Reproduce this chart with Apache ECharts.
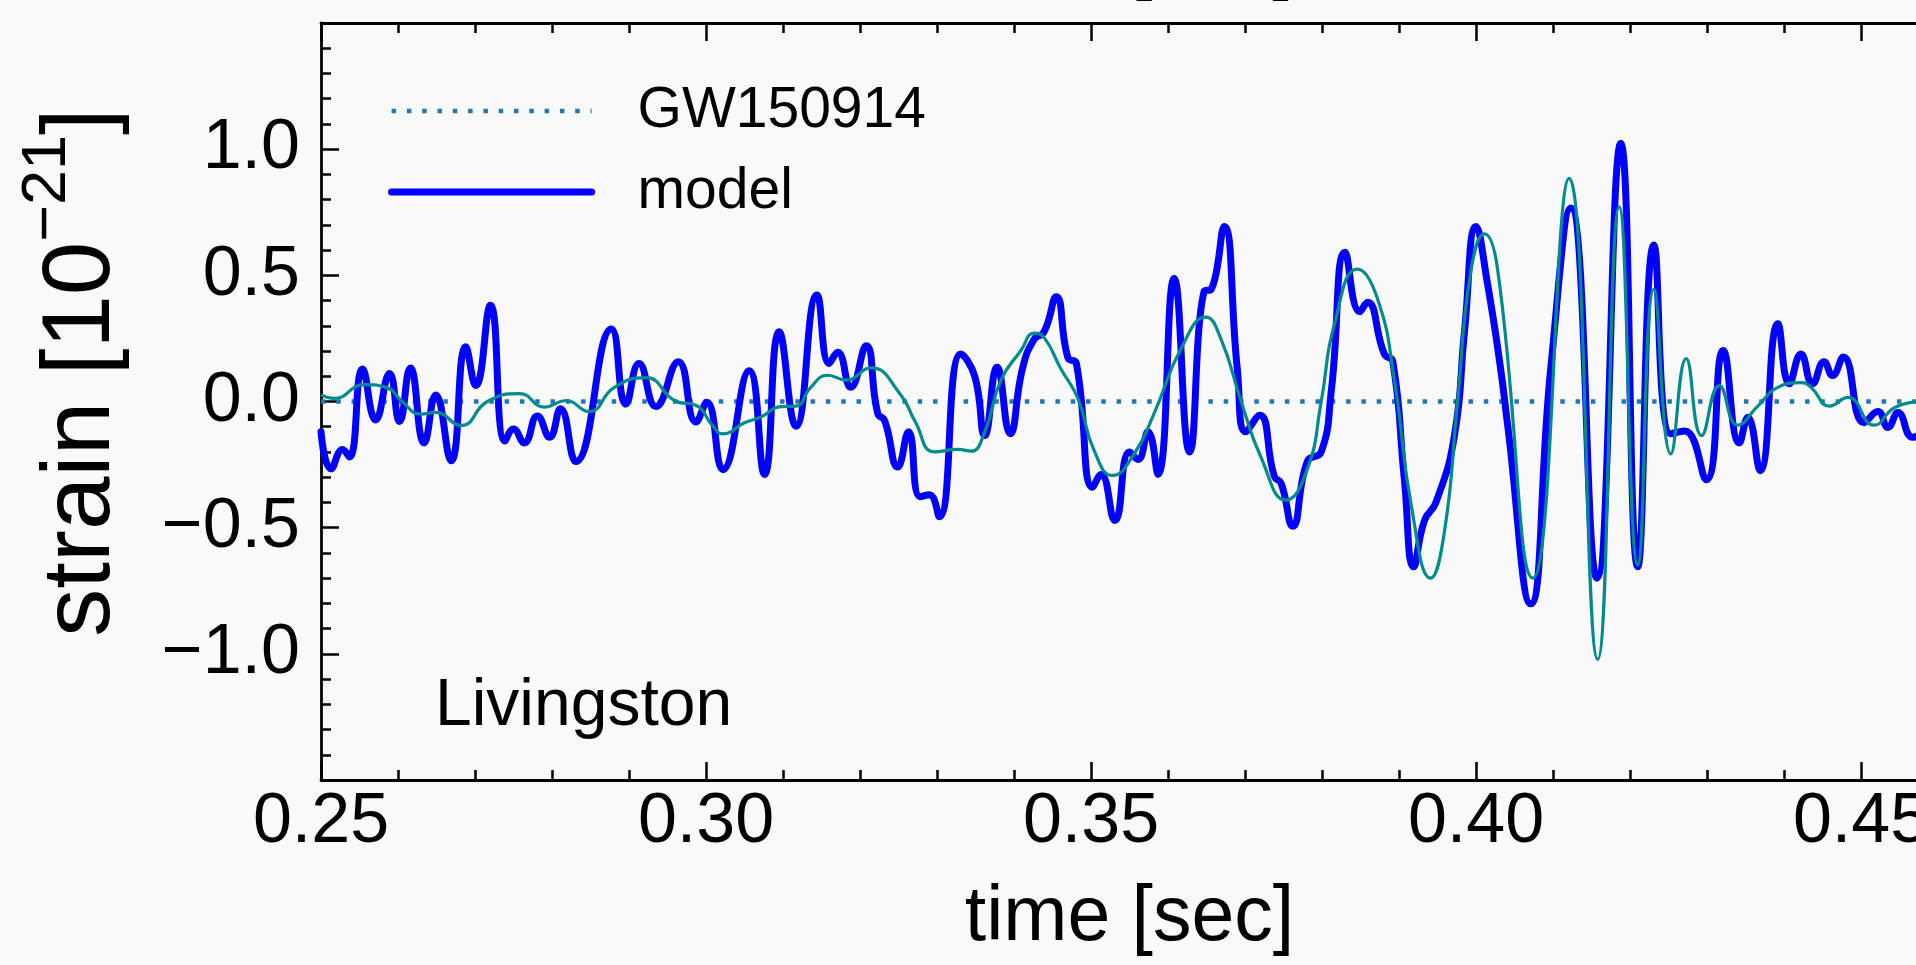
<!DOCTYPE html>
<html><head><meta charset="utf-8">
<script src="https://cdn.jsdelivr.net/npm/echarts@6/dist/echarts.min.js"></script>
<style>html,body{margin:0;padding:0;background:#f9f9f9;overflow:hidden;} #c{width:1916px;height:965px;}</style>
</head><body><div id="c"></div>
<script>
// ---- data ----
const timeModel = [0.2500,0.2513,0.2528,0.2537,0.2554,0.2571,0.2589,0.2602,0.2616,0.2634,
0.2649,0.2669,0.2688,0.2701,0.2720,0.2739,0.2750,0.2764,0.2781,0.2797,
0.2811,0.2831,0.2877,0.2896,0.2913,0.2935,0.2964,0.2987,0.3001,0.3022,
0.3056,0.3076,0.3095,0.3117,0.3144,0.3160,0.3171,0.3188,0.3208,0.3223,
0.3232,0.3249,0.3263,0.3278,0.3290,0.3303,0.3331,0.3349,0.3362,0.3378,
0.3395,0.3411,0.3426,0.3439,0.3455,0.3470,0.3481,0.3502,0.3513,0.3531,
0.3550,0.3561,0.3574,0.3587,0.3608,0.3628,0.3647,0.3656,0.3673,0.3690,
0.3701,0.3719,0.3738,0.3747,0.3762,0.3781,0.3799,0.3812,0.3830,0.3849,
0.3859,0.3881,0.3892,0.3907,0.3919,0.3933,0.3948,0.3972,0.3985,0.4000,
0.4015,0.4032,0.4041,0.4071,0.4097,0.4123,0.4157,0.4188,0.4210,0.4231,
0.4253,0.4271,0.4299,0.4321,0.4342,0.4353,0.4369,0.4392,0.4407,0.4422,
0.4437,0.4452,0.4463,0.4477,0.4504,0.4522,0.4535,0.4548,0.4567,0.4590];
const strainModel = [-0.12,-0.267,-0.19,-0.22,0.129,-0.073,0.111,-0.079,0.133,-0.164,
0.026,-0.235,0.217,0.063,0.381,-0.157,-0.109,-0.164,-0.057,-0.142,
-0.029,-0.238,0.287,-0.01,0.151,-0.02,0.158,-0.081,-0.003,-0.27,
0.122,-0.289,0.276,-0.098,0.422,0.151,0.195,0.056,0.221,-0.047,
-0.075,-0.26,-0.12,-0.377,-0.37,-0.457,0.188,0.10,-0.135,0.136,
-0.128,0.13,0.246,0.276,0.415,0.173,0.151,-0.34,-0.289,-0.472,
-0.20,-0.23,-0.12,-0.289,0.488,-0.20,0.437,0.444,0.694,0.129,
-0.12,-0.054,-0.296,-0.325,-0.494,-0.237,-0.2,0.04,0.591,0.356,
0.393,0.188,0.158,-0.31,-0.655,-0.472,-0.40,-0.135,0.276,0.694,
0.466,0.129,-0.091,-0.802,0.129,0.767,-0.70,1.023,-0.655,0.62,
-0.128,-0.117,-0.31,0.202,-0.164,-0.062,-0.274,0.308,0.07,0.188,
0.07,0.158,0.103,0.176,-0.084,-0.04,-0.103,-0.044,-0.142,-0.08];

const timeTeal = [0.2500,0.2517,0.2556,0.2587,0.2604,0.2630,0.2649,0.2682,0.2716,0.2758,
0.2790,0.2818,0.2848,0.2881,0.2922,0.2959,0.2989,0.3007,0.3022,0.3050,
0.3071,0.3097,0.3117,0.3136,0.3158,0.3182,0.3214,0.3253,0.3271,0.3297,
0.3327,0.3344,0.3362,0.3383,0.3409,0.3426,0.3439,0.3461,0.3483,0.3504,
0.3528,0.3556,0.3582,0.3617,0.3649,0.3669,0.3695,0.3721,0.3753,0.3781,
0.3799,0.3816,0.3846,0.3872,0.3894,0.3916,0.3941,0.3959,0.3976,0.3993,
0.4011,0.4028,0.4074,0.4121,0.4158,0.4186,0.4210,0.4231,0.4253,0.4273,
0.4293,0.4316,0.4340,0.4366,0.4392,0.4422,0.4435,0.4459,0.4483,0.4517,
0.4543,0.4571,0.4590];
const strainTeal = [0.026,0.012,0.067,0.053,0.004,-0.05,-0.043,-0.095,0.0,0.031,
-0.022,0.004,-0.04,0.056,0.095,0.004,-0.018,-0.09,-0.128,-0.084,
-0.062,-0.02,-0.018,0.056,0.104,0.085,0.133,0.026,-0.076,-0.20,
-0.19,-0.197,-0.12,0.085,0.202,0.271,0.254,0.129,0.012,-0.194,
-0.293,-0.208,-0.047,0.21,0.334,0.246,0.0,-0.223,-0.391,-0.267,
0.0,0.305,0.525,0.408,0.085,-0.413,-0.70,-0.516,0.0,0.51,
0.664,0.525,-0.70,0.884,-1.022,0.771,-0.648,0.444,-0.208,0.17,
-0.135,0.063,-0.094,-0.018,0.056,0.075,0.056,-0.018,0.016,-0.094,
-0.025,0.0,0.01];

const timeGW = [0.25, 0.46];
const strainGW = [0.0, 0.0];

const xTickLabels = ['0.25','0.30','0.35','0.40','0.45'];
const yTickLabels = ['\u22121.0','\u22120.5','0.0','0.5','1.0'];
const legendNames = ['GW150914','model'];
const detectorLabel = 'Livingston';
const xAxisTitle = 'time [sec]';
// ---------------------------------------------

const FONT = '"Liberation Sans", Arial, sans-serif';
const zip = (a, b) => a.map((v, i) => [v, b[i]]);

const chart = echarts.init(document.getElementById('c'), null, {renderer: 'canvas'});

const xBase = {
  type: 'value', min: 0.25, max: 0.46, interval: 0.05,
  axisLine: {show: true, onZero: false, lineStyle: {color: '#000', width: 2.8}},
  axisTick: {show: true, inside: true, length: 18, lineStyle: {color: '#000', width: 2.5}},
  minorTick: {show: true, splitNumber: 5, length: 10, lineStyle: {color: '#000', width: 2.5}},
  splitLine: {show: false}
};

chart.setOption({
  backgroundColor: '#f9f9f9',
  animation: false,
  grid: {left: 321, top: 23, width: 1617, height: 757, containLabel: false, outerBoundsMode: 'none'},
  legend: {
    data: [
      {name: legendNames[0], itemStyle: {opacity: 0}, lineStyle: {width: 4.5, type: [4.5, 10.8], cap: 'butt', color: '#1f77b4'}},
      {name: legendNames[1], itemStyle: {opacity: 0}, lineStyle: {width: 7.2, color: '#0000ff'}}
    ],
    orient: 'vertical',
    left: 383, top: 75,
    itemWidth: 200, itemHeight: 20, itemGap: 19,
    selectedMode: false,
    textStyle: {fontFamily: FONT, fontSize: 57, lineHeight: 62, color: '#000', padding: [0, 0, 0, 41]}
  },
  xAxis: [
    Object.assign({}, xBase, {
      position: 'bottom',
      axisLabel: {show: true, margin: 8, fontFamily: FONT, fontSize: 70, color: '#000',
        formatter: v => { const i = xTickLabels.indexOf(v.toFixed(2)); return i >= 0 ? xTickLabels[i] : ''; }},
      name: xAxisTitle, nameLocation: 'middle', nameGap: 100,
      nameTextStyle: {fontFamily: FONT, fontSize: 77, color: '#000'}
    }),
    Object.assign({}, xBase, {position: 'top', axisLabel: {show: false}})
  ],
  yAxis: {
    type: 'value', min: -1.5, max: 1.5, interval: 0.5,
    axisLine: {show: true, onZero: false, lineStyle: {color: '#000', width: 2.8}},
    axisTick: {show: true, inside: true, length: 18, lineStyle: {color: '#000', width: 2.5}},
    minorTick: {show: true, splitNumber: 5, length: 10, lineStyle: {color: '#000', width: 2.5}},
    splitLine: {show: false},
    axisLabel: {show: true, margin: 21, fontFamily: FONT, fontSize: 70, color: '#000',
      formatter: v => {
        const s = (v < 0 ? '\u2212' : '') + Math.abs(v).toFixed(1);
        return yTickLabels.indexOf(s) >= 0 ? s : '';
      }},
    name: '{a|strain [10}{s|\u221221}{a|]}',
    nameLocation: 'middle', nameRotate: 90, nameGap: 190,
    nameTextStyle: {
      padding: [0, 0, 0, 58],
      rich: {
        a: {fontFamily: FONT, fontSize: 96, lineHeight: 96, color: '#000'},
        s: {fontFamily: FONT, fontSize: 63, lineHeight: 63, color: '#000', padding: [0, 0, 70, 0]}
      }
    }
  },
  graphic: [
    {type: 'text', x: 435, y: 707,
      style: {text: detectorLabel, fontFamily: FONT, fontSize: 66, fill: '#000', verticalAlign: 'middle', align: 'left'}},
    // bottom edge of the upper panel's axis title, cut by the top of the figure
    {type: 'text', x: 1129, y: -36.5,
      style: {text: xAxisTitle, fontFamily: FONT, fontSize: 77, fill: '#000', verticalAlign: 'middle', align: 'center'}}
  ],
  series: [
    {name: legendNames[0], type: 'line', data: zip(timeGW, strainGW), symbol: 'none',
      lineStyle: {color: '#1f77b4', width: 4.5, type: [4.5, 10.8], cap: 'butt'}, itemStyle: {color: '#1f77b4'}, z: 2},
    {name: legendNames[1], type: 'line', data: zip(timeModel, strainModel), symbol: 'none',
      smooth: 0.5, lineStyle: {color: '#0000ff', width: 7, join: 'round', cap: 'round'}, itemStyle: {color: '#0000ff'}, z: 3},
    {name: 'filtered', type: 'line', data: zip(timeTeal, strainTeal), symbol: 'none',
      smooth: 0.5, lineStyle: {color: '#008b8b', width: 3.2}, itemStyle: {color: '#008b8b'}, z: 4}
  ]
});
</script>
</body></html>
